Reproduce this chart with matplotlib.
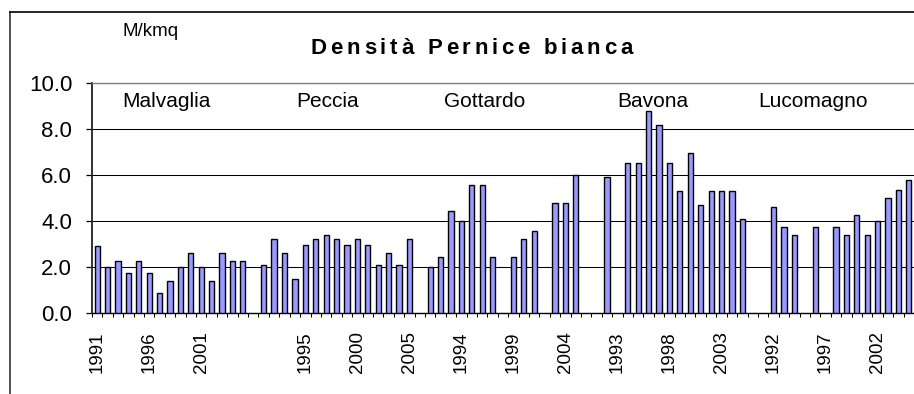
import numpy as np
import matplotlib
matplotlib.use('Agg')
import matplotlib.pyplot as plt
from matplotlib.lines import Line2D
from matplotlib.ticker import FormatStrFormatter

plt.rcParams['font.family'] = ['Liberation Sans', 'DejaVu Sans']

W, H = 914, 394

# Densities (M/kmq) per site, 1991-2005; nan = no census that year
YEARS = list(range(1991, 2006))
SITES = ['Malvaglia', 'Peccia', 'Gottardo', 'Bavona', 'Lucomagno']
nan = np.nan
malvaglia = [2.88, 2.0, 2.25, 1.73, 2.25, 1.73, 0.87, 1.38, 2.0, 2.6, 2.0, 1.38, 2.6, 2.25, 2.25]
peccia = [2.08, 3.21, 2.6, 1.47, 2.95, 3.21, 3.39, 3.21, 2.95, 3.21, 2.95, 2.08, 2.6, 2.08, 3.21]
gottardo = [2.0, 2.43, 4.43, 4.0, 5.57, 5.57, 2.43, nan, 2.43, 3.21, 3.56, nan, 4.78, 4.78, 6.0]
bavona = [nan, 5.9, nan, 6.53, 6.53, 8.79, 8.18, 6.53, 5.3, 6.96, 4.69, 5.3, 5.3, 5.3, 4.08]
lucomagno = [nan, 4.6, 3.73, 3.39, nan, 3.73, nan, 3.73, 3.39, 4.26, 3.39, 4.0, 4.97, 5.32, 5.76]

# where the site names sit (category units) over each block
LABEL_X = [6.68, 22.1, 37.2, 53.4, 68.8]

# one long category axis, an empty slot between sites
cats, vals = [], []
for i, series in enumerate([malvaglia, peccia, gottardo, bavona, lucomagno]):
    if i > 0:
        cats.append('')
        vals.append(nan)
    cats += [str(y) for y in YEARS]
    vals += series
vals = np.array(vals)
x = np.arange(len(vals))

fig = plt.figure(figsize=(W / 100, H / 100), dpi=100)
ax = fig.add_axes([92 / W, (H - 312.7) / H, (W - 92) / W, 230 / H])

ok = np.isfinite(vals)
ax.bar(x[ok], vals[ok], width=0.5, color='#9999ff', edgecolor='black', linewidth=1.0, zorder=3)

ax.set_xlim(-0.5, 78.25)
ax.set_ylim(0, 10)

ax.set_yticks(np.arange(0, 10.1, 2))
ax.yaxis.set_major_formatter(FormatStrFormatter('%.1f'))
ax.yaxis.grid(True, color='black', linewidth=0.75)
ax.set_axisbelow(True)
ax.tick_params(axis='y', direction='out', length=4.3, width=0.9, pad=10, labelsize=16)

major = list(range(0, len(cats), 5))
ax.set_xticks(major)
ax.set_xticklabels([cats[i] for i in major], rotation=90, fontsize=13.5)
ax.set_xticks(np.arange(-0.5, len(cats), 1), minor=True)
ax.tick_params(axis='x', which='major', length=0, pad=13.5)
ax.tick_params(axis='x', which='minor', direction='out', length=3, width=0.75)

ax.spines['right'].set_visible(False)
ax.spines['top'].set_color('#808080')
ax.spines['top'].set_linewidth(1.0)
ax.spines['left'].set_linewidth(1.3)
ax.spines['left'].set_color('#222222')
ax.spines['bottom'].set_linewidth(1.0)

for name, lx in zip(SITES, LABEL_X):
    ax.text(lx, 8.93, name, ha='center', va='baseline', fontsize=15)

# chart area border
fig.add_artist(Line2D([10 / W, 10 / W], [0, 1 - 12 / H], transform=fig.transFigure,
                      color='#333333', linewidth=1.2))
fig.add_artist(Line2D([10 / W, 1], [1 - 12 / H, 1 - 12 / H], transform=fig.transFigure,
                      color='black', linewidth=1.2))

fig.text(123 / W, 1 - 36 / H, 'M/kmq', ha='left', va='baseline', fontsize=13.5)


def text_width(s, renderer, **kw):
    t = fig.text(0, 0, s, **kw)
    w = t.get_window_extent(renderer).width
    t.remove()
    return w


def spaced_title(s, x0, y0, width, **kw):
    # lay out the title letter by letter so it spans the given width
    renderer = fig.canvas.get_renderer()
    space = text_width('a a', renderer, **kw) - text_width('aa', renderer, **kw)
    widths = [space if ch == ' ' else text_width(ch, renderer, **kw) for ch in s]
    gap = (width - widths[-1] - sum(widths[:-1])) / (len(s) - 1)
    xpos = x0
    for ch, w in zip(s, widths):
        fig.text(xpos / W, 1 - y0 / H, ch, ha='left', va='baseline', **kw)
        xpos += w + gap


spaced_title('Densità Pernice bianca', 310.7, 54, 322, fontsize=16, fontweight='bold')

fig.savefig('out.png', dpi=100)
